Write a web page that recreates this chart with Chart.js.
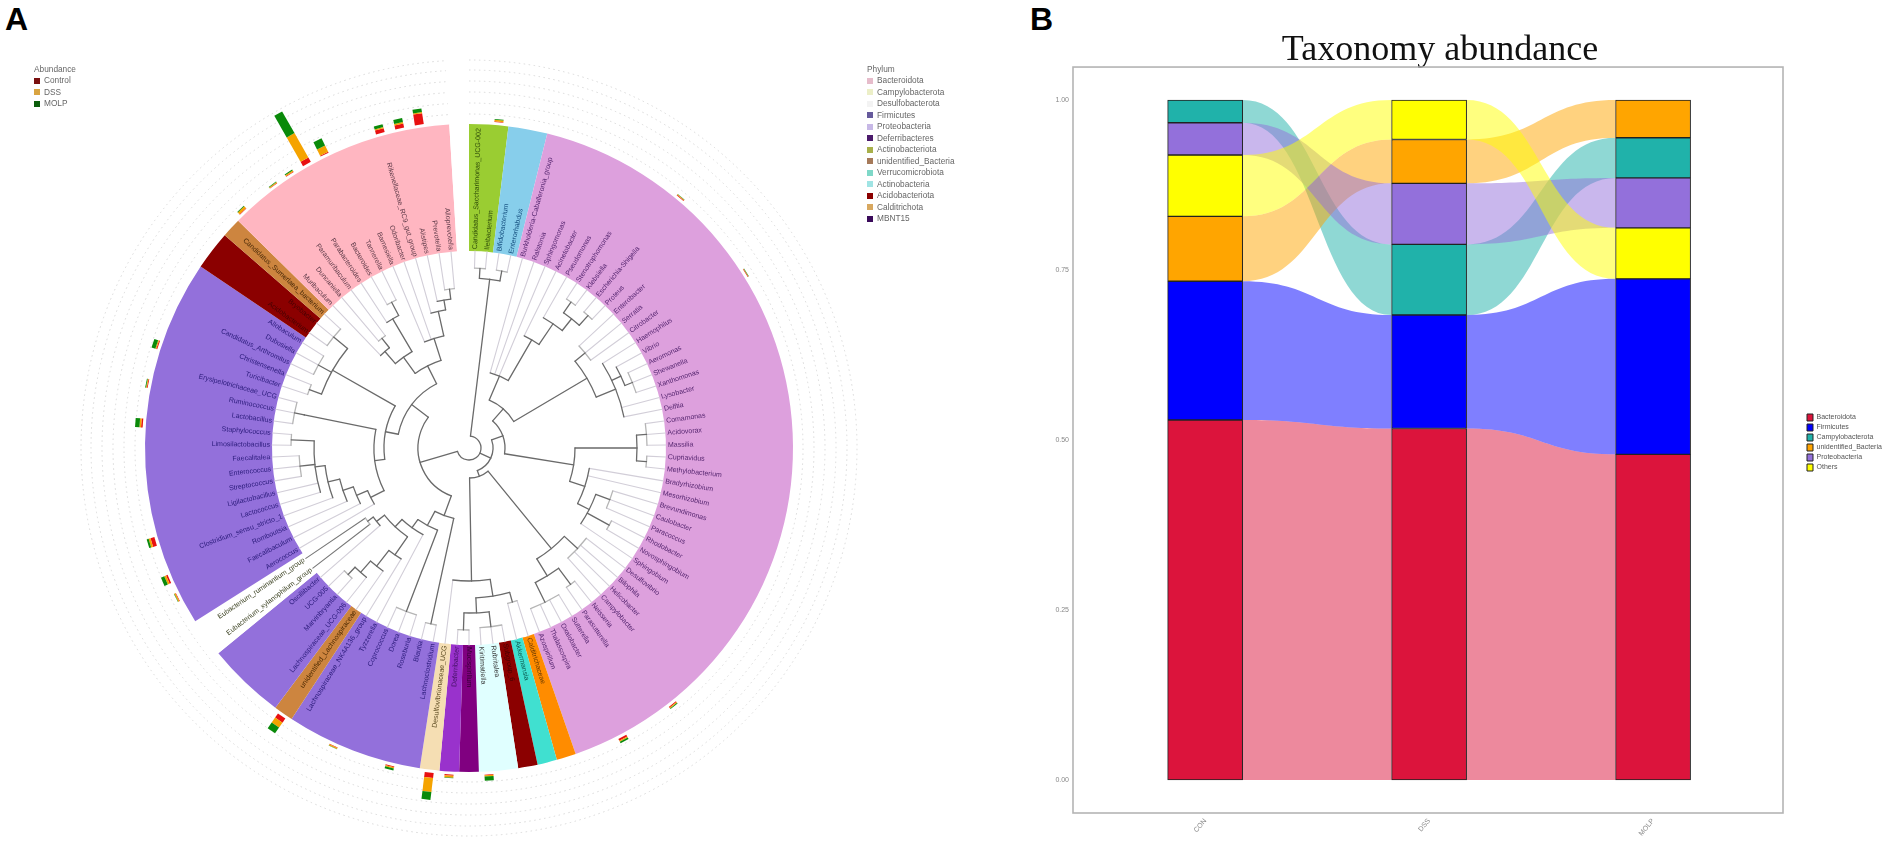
<!DOCTYPE html>
<html><head><meta charset="utf-8">
<style>
html,body{margin:0;padding:0;background:#fff;width:1902px;height:843px;overflow:hidden;font-family:"Liberation Sans",sans-serif}
canvas{position:absolute;display:block}
#chartA{left:0;top:0;filter:blur(.45px)}
#chartB{left:988px;top:0;filter:blur(.35px)}
.letter{position:absolute;font:bold 32px "Liberation Sans";color:#000;line-height:32px}
.lg{position:absolute;font:8.3px/11.47px "Liberation Sans";color:#666;filter:blur(.4px);white-space:nowrap}
.lg i{display:inline-block;width:6px;height:6px;margin:0 4px 0 0;vertical-align:-0.5px}
</style></head><body>
<div class="letter" style="left:5px;top:3px">A</div>
<div class="letter" style="left:1030px;top:3px">B</div>
<div id="legendAbund" class="lg" style="left:34px;top:64px"></div>
<div id="legendPhylum" class="lg" style="left:867px;top:64px"></div>
<canvas id="chartA" width="938" height="843"></canvas>
<canvas id="chartB" width="904" height="843"></canvas>
<script src="https://cdn.jsdelivr.net/npm/chart.js@4"></script>
<script>
// ---------- Panel B data ----------
const sampleLabels = ["CON","DSS","MOLP"];
const taxaB = ["Bacteroidota","Firmicutes","Campylobacterota","unidentified_Bacteria","Proteobacteria","Others"];
const bacteroidota = [0.5295,0.5170,0.4790];
const firmicutes = [0.2040,0.1668,0.2580];
const campylobacterota = [0.0334,0.1039,0.0590];
const unidentifiedBacteria = [0.0955,0.0645,0.0555];
const proteobacteria = [0.0475,0.0898,0.0735];
const others = [0.0901,0.0580,0.0750];
const stackOrder = [[0,1,3,5,4,2],[0,1,2,4,3,5],[0,1,5,4,2,3]];
const colorsB = ["#DC143C","#0000FF","#20B2AA","#FFA500","#9370DB","#FFFF00"];
const yTicksB = [0,0.25,0.5,0.75,1];

// ---------- Panel A data ----------
const groupNames = ["Candidatus","Actinobacteria","Proteobacteria","Calditrichota","Verrucomicrobiota","Acidobacteriota","unknown","Deferribacteres","Deferribacteres2","Campylobacterota","Firmicutes","unidentified_Firmicutes","Firmicutes","Eubacterium","Firmicutes","Acidobacteriota","Actinobacteriota","Bacteroidota","gap"];
const groupLeaves = [2,2,42,1,1,1,2,1,1,1,7,1,4,2,19,2,1,12,1];
const groupColors = ["#9ACD32","#87CEEB","#DDA0DD","#FF8C00","#40E0D0","#8B0000","#E0FFFF","#800080","#9932CC","#F5DEB3","#9370DB","#CD853F","#9370DB","#FFFFFF","#9370DB","#8B0000","#CD853F","#FFB6C1","#FFFFFF"];
const labelColors = ["#2d4a08","#154f7f","#55256f","#6a3a00","#0b5b50","#400","#333","#300030","#401060","#5b4a20","#2a1a7a","#4a2800","#2a1a7a","#3a4020","#2a1a7a","#400","#4a2a08","#5e3a48","#000"];
const generaNames = ["Candidatus_Saccharimonas_UCG-002","Ileibacterium","Bifidobacterium","Enterorhabdus",
"Burkholderia-Caballeronia_group","Ralstonia","Sphingomonas","Acinetobacter","Pseudomonas","Stenotrophomonas","Klebsiella","Escherichia-Shigella","Proteus","Enterobacter","Serratia","Citrobacter","Haemophilus","Vibrio","Aeromonas","Shewanella","Xanthomonas","Lysobacter","Delftia","Comamonas","Acidovorax","Massilia","Cupriavidus","Methylobacterium","Bradyrhizobium","Mesorhizobium","Brevundimonas","Caulobacter","Paracoccus","Rhodobacter","Novosphingobium","Sphingobium","Desulfovibrio","Bilophila","Helicobacter","Campylobacter","Neisseria","Parasutterella","Sutterella","Oxalobacter","Thalassospira","Azospirillum",
"Calditrichaceae","Akkermansia","Subgroup_6","Rubritalea","Kiritimatiella","Mucispirillum","Deferribacter","Desulfovibrionaceae_UCG",
"Lachnoclostridium","Blautia","Roseburia","Dorea","Coprococcus","Tyzzerella","Lachnospiraceae_NK4A136_group","unidentified_Lachnospiraceae","Lachnospiraceae_UCG-006","Marvinbryantia","UCG-005","Oscillibacter",
"Eubacterium_xylanophilum_group","Eubacterium_ruminantium_group",
"Aerococcus","Faecalibaculum","Romboutsia","Clostridium_sensu_stricto_1","Lactococcus","Ligilactobacillus","Streptococcus","Enterococcus","Faecalitalea","Limosilactobacillus","Staphylococcus","Lactobacillus","Ruminococcus","Erysipelotrichaceae_UCG","Turicibacter","Christensenella","Candidatus_Arthromitus","Dubosiella","Allobaculum",
"Acidobacterium","Bryobacter","Candidatus_Sumerlaea_bacterium",
"Muribaculum","Duncaniella","Paramuribaculum","Parabacteroides","Bacteroides","Tannerella","Barnesiella","Odoribacter","Rikenellaceae_RC9_gut_group","Alistipes","Prevotella","Alloprevotella"];
const abundanceLeaf = [1,11,16,40,43,50,52,53,55,58,61,69,70,72,78,80,82,90,92,93,94,95,98,99,100];
const abundanceControl = [.3,.4,.3,.5,1,.3,.6,2.5,.5,.3,2.5,.3,.8,2,.8,.4,.5,.3,.2,.3,2.5,.5,2,2,5.5];
const abundanceDSS = [.8,.3,.2,.5,.6,.6,1,7,.6,.5,3,.6,1,1,.8,.4,.5,1.2,.5,.6,14,3.5,.6,.8,.6];
const abundanceMOLP = [.4,.2,.2,.4,.8,2.2,.2,4,1,.2,3.5,.2,1.8,1,2.2,.4,2,.4,.3,.5,12.5,4,1.5,2,1.8];
const abundanceColors = ["#E81010","#F5A300","#0A8A0A"];
const phylumLegend = ["Bacteroidota","Campylobacterota","Desulfobacterota","Firmicutes","Proteobacteria","Deferribacteres","Actinobacteriota","unidentified_Bacteria","Verrucomicrobiota","Actinobacteria","Acidobacteriota","Calditrichota","MBNT15"];
const phylumMarkers = ["#e6bccb","#ecefc8","#f3f3f3","#665a9c","#c7b8e6","#4b1a6b","#a8b04a","#a67a5a","#7fd8c8","#a0e4e4","#8b0000","#d8a860","#3a0a5a"];
const abundLegend = ["Control","DSS","MOLP"];
const abundMarkers = ["#7a1010","#d9a441","#0b5d0b"];
const ringRadii = [334,345,356,367,378,388];
// tree: [radius, children...]; 0 is a tip, tips are numbered in drawing order
const treeTop = [170,[180,0,0],[180,0,0]];
const treeUpperA = [78,0,0,0,[125,0,[150,0,[165,[178,0,0],[178,0,0]]]]];
const treeUpperB = [137,[150,0,0,0],[158,0,[168,0,[176,0,0,0]],0,0]];
const treeLowerC = [106,[168,[178,0,0,0],[178,0,0]],[122,0,0,[135,[150,0,0,0],[160,0,0],0]]];
const treeEnd = [130,[148,0,0,0,0],[150,[170,0,0],[172,0,0,0,0]]];
const treeBottom = [133,[150,[160,0,0],[165,[180,0,0,0],[182,0,0]]],0];
const treeDown = [72,[180,0,0],[88,[175,0,0,0],[98,0,[108,[130,0,[150,0,[165,0,[175,0,0]]]],[118,0,[125,0,0]]]]]];
const treeLadder = [110,0,[122,0,[133,0,[145,0,[155,0,0,[170,0,0,0],[178,0,0]]]]]];
const treeP = [95,treeLadder,[168,[178,0,0,0]]];
const treeR = [157,[170,0,0],[172,0,0,0],[175,0,0,0]];
const treePink = [92,[112,[128,0,[140,0,0]],[150,0,[165,0,0]]],[115,0,0,[140,0,[150,0,[160,0,0]]]]];
const treeRoot = [12,treeTop,[24,[36,[52,treeUpperA,treeUpperB],treeLowerC],[30,treeEnd,treeBottom]],[51,treeDown,[72,[85,treeP,treeR],treePink]]];

// ---------- legends ----------
function buildLegend(id,title,names,cols){
  document.getElementById(id).innerHTML = '<div>'+title+'</div>'+names.map((n,i)=>'<div><i style="background:'+cols[i]+'"></i>'+n+'</div>').join('');
}
buildLegend('legendAbund','Abundance',abundLegend,abundMarkers);
buildLegend('legendPhylum','Phylum',phylumLegend,phylumMarkers);

// ---------- Panel A ----------
const circularPlugin = {
  id:'circular',
  afterDatasetsDraw(chart){
    const ctx=chart.ctx, arc=chart.getDatasetMeta(0).data[0];
    const cx=arc.x, cy=arc.y, rO=arc.outerRadius, rI=arc.innerRadius;
    const total=groupLeaves.reduce((a,b)=>a+b,0), step=2*Math.PI/total;
    const leafA=i=>-Math.PI/2+(i+.5)*step;
    const firstA=-Math.PI/2, lastA=-Math.PI/2+(total-1)*step;
    const leafGroup=i=>{let c=0;for(let g=0;g<groupLeaves.length;g++){c+=groupLeaves[g];if(i<c)return g;}return 0;};
    ctx.save();
    // dotted rings
    ctx.strokeStyle='#d8d8d8';ctx.lineWidth=1;ctx.setLineDash([1.5,3.5]);
    ringRadii.forEach(r=>{ctx.beginPath();ctx.arc(cx,cy,r,firstA,lastA);ctx.stroke();});
    ctx.setLineDash([]);
    // outer stacked abundance bars
    ctx.lineWidth=9;
    abundanceLeaf.forEach((leaf,k)=>{
      const a=leafA(leaf), ca=Math.cos(a), sa=Math.sin(a);
      let r=rO+3;
      [abundanceControl[k],abundanceDSS[k],abundanceMOLP[k]].forEach((v,s)=>{
        const nr=r+v*2;
        ctx.strokeStyle=abundanceColors[s];ctx.beginPath();
        ctx.moveTo(cx+r*ca,cy+r*sa);ctx.lineTo(cx+nr*ca,cy+nr*sa);ctx.stroke();
        r=nr;
      });
    });
    // dendrogram
    let next=0;
    const layout=n=>{
      if(n===0){const i=next++;return {tip:true,i,a:leafA(i)};}
      const kids=n.slice(1).map(layout);
      return {r:n[0],kids,a:(kids[0].a+kids[kids.length-1].a)/2};
    };
    const root=layout(treeRoot);
    const radial=(a,r0,r1)=>{ctx.beginPath();ctx.moveTo(cx+r0*Math.cos(a),cy+r0*Math.sin(a));ctx.lineTo(cx+r1*Math.cos(a),cy+r1*Math.sin(a));ctx.stroke();};
    const tips=[],inner=[];
    const walk=(nd,pr)=>{
      if(nd.tip){tips.push([nd,pr]);return;}
      inner.push([nd,pr]);
      nd.kids.forEach(k=>walk(k,nd.r));
    };
    walk(root,null);
    ctx.lineCap='round';
    ctx.lineWidth=1.1;
    tips.forEach(([nd,pr])=>{
      ctx.strokeStyle=groupNames[leafGroup(nd.i)]==='Eubacterium'?'#777':'#d2ced8';
      radial(nd.a,pr,rI);
    });
    ctx.lineWidth=1.3;
    inner.forEach(([nd,pr])=>{
      const allTips=nd.kids.every(k=>k.tip);
      ctx.strokeStyle=allTips?'#b5b5b5':'#6a6a6a';
      ctx.beginPath();ctx.arc(cx,cy,nd.r,nd.kids[0].a,nd.kids[nd.kids.length-1].a);ctx.stroke();
      ctx.strokeStyle='#6a6a6a';
      if(pr!==null)radial(nd.a,pr,nd.r);
    });
    // labels
    ctx.font='7px "Liberation Sans"';ctx.textBaseline='middle';
    generaNames.forEach((name,i)=>{
      const a=leafA(i);
      ctx.save();ctx.translate(cx,cy);
      ctx.fillStyle=labelColors[leafGroup(i)];
      if(Math.cos(a)>=0){ctx.rotate(a);ctx.textAlign='left';ctx.fillText(name,rI+2,0);}
      else{ctx.rotate(a+Math.PI);ctx.textAlign='right';ctx.fillText(name,-(rI+2),0);}
      ctx.restore();
    });
    ctx.restore();
  }
};
new Chart(document.getElementById('chartA'),{
  type:'doughnut',
  data:{labels:groupNames,datasets:[{data:groupLeaves,backgroundColor:groupColors,borderWidth:0,radius:324,cutout:'60.8%'}]},
  options:{responsive:false,animation:false,devicePixelRatio:1,layout:{padding:{top:53}},
    plugins:{legend:{display:false},tooltip:{enabled:false}}},
  plugins:[circularPlugin]
});

// ---------- Panel B ----------
const seriesB=[bacteroidota,firmicutes,campylobacterota,unidentifiedBacteria,proteobacteria,others];
const spans=seriesB.map(()=>[]);
stackOrder.forEach((order,c)=>{let acc=0;order.forEach(s=>{const lo=acc;acc+=seriesB[s][c];spans[s][c]=[lo,Math.min(acc,1)];});});
const BAR_W=75;
const bPlugin={
  id:'alluvial',
  beforeLayout(chart){
    const lg=chart.legend;
    if(lg&&!lg._patched){const f=lg.fit;lg.fit=function(){f.call(this);this.width=109;};lg._patched=true;}
  },
  afterLayout(chart){
    const lg=chart.legend;
    lg.left=816;lg.right=904;lg.top=411;lg.bottom=480;
  },
  beforeDatasetsDraw(chart){
    const ctx=chart.ctx,x=chart.scales.x,y=chart.scales.y;
    ctx.save();
    ctx.globalAlpha=.5;
    spans.forEach((sp,s)=>{
      ctx.fillStyle=colorsB[s];
      for(let c=0;c<sp.length-1;c++){
        const x0=x.getPixelForValue(c)+BAR_W/2,x1=x.getPixelForValue(c+1)-BAR_W/2,m=(x0+x1)/2;
        const a0=y.getPixelForValue(sp[c][1]),a1=y.getPixelForValue(sp[c+1][1]);
        const b0=y.getPixelForValue(sp[c][0]),b1=y.getPixelForValue(sp[c+1][0]);
        ctx.beginPath();ctx.moveTo(x0,a0);ctx.bezierCurveTo(m,a0,m,a1,x1,a1);
        ctx.lineTo(x1,b1);ctx.bezierCurveTo(m,b1,m,b0,x0,b0);ctx.closePath();ctx.fill();
      }
    });
    ctx.restore();
  },
  afterDraw(chart){
    const c=chart.ctx,a=chart.chartArea;
    c.save();c.strokeStyle='#b4b4b4';c.lineWidth=1.6;c.strokeRect(a.left,a.top,a.right-a.left,a.bottom-a.top);c.restore();
  }
};
new Chart(document.getElementById('chartB'),{
  type:'bar',
  data:{datasets:taxaB.map((name,s)=>({label:name,data:spans[s].map((v,c)=>({x:c,y:v})),backgroundColor:colorsB[s],borderColor:'#222',borderWidth:1,borderSkipped:false,barThickness:BAR_W,grouped:false}))},
  options:{responsive:false,animation:false,devicePixelRatio:1,
    layout:{padding:0},
    plugins:{
      tooltip:{enabled:false},
      title:{display:true,text:'Taxonomy abundance',color:'#111',font:{family:'"Liberation Serif"',size:36,weight:'normal',lineHeight:0.89},padding:{top:35,bottom:0}},
      legend:{position:'right',align:'start',labels:{boxWidth:6,boxHeight:7,padding:3,color:'#555',font:{size:7,family:'"Liberation Sans"'}}}
    },
    scales:{
      x:{type:'linear',offset:false,min:-0.59,max:2.58,grid:{display:false,drawTicks:true,tickLength:3},border:{display:false},
         afterBuildTicks(s){s.ticks=sampleLabels.map((_,i)=>({value:i}));},
         afterFit(s){s.height=30;},
         ticks:{callback:v=>sampleLabels[v],minRotation:50,maxRotation:50,color:'#888',font:{size:7},padding:1}},
      y:{min:-0.0485,max:1.0485,grid:{display:false,tickLength:3},border:{display:false},
         afterBuildTicks(s){s.ticks=yTicksB.map(v=>({value:v}));},
         afterFit(s){s.width=85;},
         ticks:{callback:v=>v.toFixed(2),color:'#888',font:{size:7},padding:1}}
    }
  },
  plugins:[bPlugin]
});
</script>
</body></html>
